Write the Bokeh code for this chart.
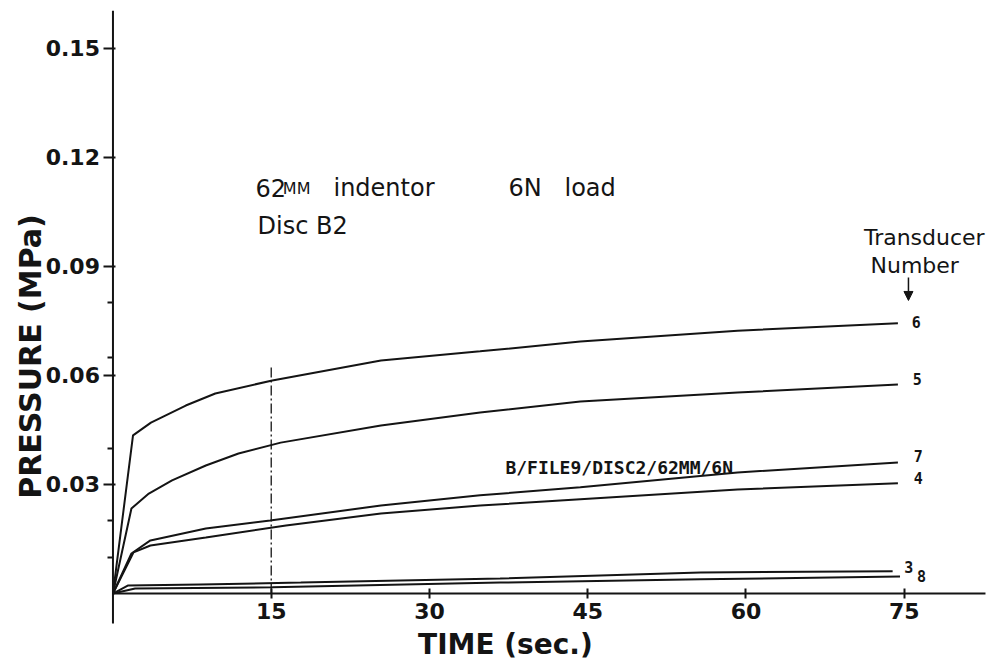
from bokeh.plotting import figure
from bokeh.models import (Label, FixedTicker, Range1d, Arrow, NormalHead,
                          NumeralTickFormatter)
from bokeh.embed import file_html
from bokeh.resources import INLINE

# Pressure (MPa) against time (s) for each transducer
t6 = [0, 1.9, 3.6, 6.9, 9.7, 15.1, 25.4, 34.8, 44.3, 59.2, 74.4]
p6 = [0, 0.0435, 0.0470, 0.0517, 0.0550, 0.0586, 0.0641, 0.0666, 0.0693, 0.0723, 0.0743]

t5 = [0, 1.75, 3.4, 5.6, 8.8, 11.9, 15.9, 25.4, 34.8, 44.3, 59.2, 74.4]
p5 = [0, 0.0234, 0.0275, 0.0311, 0.0352, 0.0385, 0.0415, 0.0462, 0.0498, 0.0528, 0.0553, 0.0575]

t7 = [0, 1.75, 3.55, 8.8, 14.9, 25.4, 34.8, 44.3, 59.2, 74.4]
p7 = [0, 0.0110, 0.0146, 0.0179, 0.0201, 0.0242, 0.0270, 0.0292, 0.0333, 0.0360]

t4 = [0, 1.95, 3.55, 8.8, 16.4, 25.4, 34.8, 44.3, 59.2, 74.4]
p4 = [0, 0.0113, 0.0132, 0.0154, 0.0187, 0.0220, 0.0242, 0.0259, 0.0286, 0.0303]

t3 = [0, 1.4, 8.3, 17.8, 36.7, 55.7, 73.9]
p3 = [0, 0.0022, 0.0025, 0.0030, 0.0041, 0.0058, 0.0061]

t8 = [0, 2.1, 15.1, 36.7, 55.7, 74.6]
p8 = [0, 0.0014, 0.0017, 0.0030, 0.0039, 0.0047]

curves = [("6", t6, p6), ("5", t5, p5), ("7", t7, p7),
          ("4", t4, p4), ("3", t3, p3), ("8", t8, p8)]

x_ticks = [15, 30, 45, 60, 75]
y_ticks = [0.03, 0.06, 0.09, 0.12, 0.15]
y_minor = [0.01, 0.02, 0.04, 0.065, 0.08]

# extent of the drawn axis lines
x_axis_end = 82.7
y_axis_bottom = -0.00825
y_axis_top = 0.1603

INK = "#141414"

# the frame fills the whole canvas; the axes sit at the data origin
p = figure(width=995, height=661, output_backend="svg", toolbar_location=None,
           x_range=Range1d(-10.66, 83.65), y_range=Range1d(-0.0187, 0.1631),
           min_border=0)
p.outline_line_color = None
p.grid.grid_line_color = None

p.xaxis.fixed_location = 0
p.yaxis.fixed_location = 0
p.xaxis.ticker = FixedTicker(ticks=x_ticks)
p.xaxis.formatter = NumeralTickFormatter(format="0")
p.yaxis.ticker = FixedTicker(ticks=y_ticks, minor_ticks=y_minor)
p.yaxis.formatter = NumeralTickFormatter(format="0.00")
for ax in (p.xaxis, p.yaxis):
    ax.axis_line_color = None
    ax.major_tick_line_color = INK
    ax.major_tick_line_width = 2
    ax.major_label_text_font = "DejaVu Sans"
    ax.major_label_text_font_style = "bold"
    ax.major_label_text_font_size = "22px"
    ax.major_label_text_color = INK
p.xaxis.major_tick_in = 5
p.xaxis.major_tick_out = 5
p.xaxis.minor_tick_line_color = None
p.xaxis.major_label_standoff = 4
p.yaxis.major_tick_in = 3
p.yaxis.major_tick_out = 9
p.yaxis.minor_tick_in = 0
p.yaxis.minor_tick_out = 5
p.yaxis.minor_tick_line_color = INK
p.yaxis.minor_tick_line_width = 2
p.yaxis.major_label_standoff = 4

# axis lines
p.line([0, x_axis_end], [0, 0], line_color=INK, line_width=2)
p.line([0, 0], [y_axis_bottom, y_axis_top], line_color=INK, line_width=2)

# marker line at 15 s
p.line([15, 15], [0, 0.063], line_color=INK, line_width=1.3, line_dash="10 3 2 3")

# transducer curves with their numbers at the right-hand end
label_dy = {"6": 0.0004, "5": 0.0016, "7": 0.0018, "4": 0.0014, "3": 0.0012, "8": 0.0002}
label_dx = {"6": 1.3, "5": 1.4, "7": 1.5, "4": 1.5, "3": 1.1, "8": 1.6}
for name, t, pr in curves:
    p.line(t, pr, line_color=INK, line_width=2)
    p.add_layout(Label(x=t[-1] + label_dx[name], y=pr[-1] + label_dy[name], text=name,
                       text_font="DejaVu Sans Mono", text_font_style="bold",
                       text_font_size="15px", text_color=INK,
                       text_baseline="middle", text_align="left"))

def note(x, y, text, size="24px", align="left", baseline="alphabetic",
         font="DejaVu Sans", style="normal", angle=0.0):
    p.add_layout(Label(x=x, y=y, text=text, text_font=font, text_font_style=style,
                       text_font_size=size, text_color=INK, text_align=align,
                       text_baseline=baseline, angle=angle))

# test description
note(13.5, 0.1114, "62")
note(16.1, 0.1114, "MM", size="16px")
note(20.9, 0.1114, "indentor")
note(37.5, 0.1114, "6N")
note(42.8, 0.1114, "load")
note(13.7, 0.1012, "Disc B2")
note(37.2, 0.0347, "B/FILE9/DISC2/62MM/6N", size="18px", baseline="middle",
     font="DejaVu Sans Mono", style="bold")

# key to the curve numbers
note(76.9, 0.0979, "Transducer", size="22px", align="center", baseline="middle")
note(75.99, 0.0902, "Number", size="22px", align="center", baseline="middle")
p.add_layout(Arrow(end=NormalHead(size=9, fill_color=INK, line_color=INK),
                   x_start=75.4, y_start=0.0869, x_end=75.4, y_end=0.0806,
                   line_color=INK, line_width=1.5))

# axis titles
note(-7.8, 0.0652, "PRESSURE (MPa)", size="30px", align="center", baseline="middle",
     style="bold", angle=1.5708)
note(37.2, -0.0139, "TIME (sec.)", size="28px", align="center", baseline="middle",
     style="bold")

open("out.html", "w").write(file_html(p, INLINE))
